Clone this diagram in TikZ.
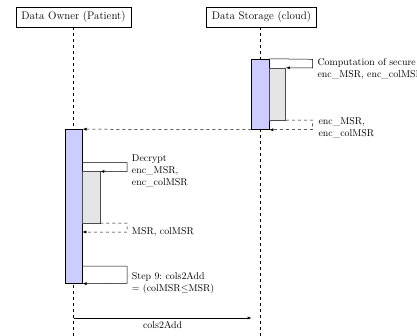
\documentclass[tikz,border=0pt]{standalone}
\usetikzlibrary{arrows.meta}
\begin{document}
\begin{tikzpicture}[x=1pt,y=-1pt,
  line width=0.5pt,
  >={Latex[length=4pt,width=3pt]},
  header/.style={draw, fill=white, font=\fontsize{11}{13}\selectfont, minimum height=20pt, inner xsep=5.5pt, inner ysep=0pt},
  life/.style={dashed, line width=0.6pt},
  act/.style={draw, fill=blue!20, inner sep=0pt},
  sub/.style={draw=black!70, fill=gray!20, inner sep=0pt},
  lbl/.style={font=\fontsize{9.9}{12}\selectfont, align=left, inner sep=0pt, anchor=west},
  ret/.style={->, dashed}
]
\useasboundingbox (0,0) rectangle (417,335);
\clip (0,0) rectangle (417,335);

% headers
\node[header] (do) at (73.5,17) {Data Owner (Patient)};
\node[header] (ds) at (261.5,17) {Data Storage (cloud)};

% lifeline end points
\coordinate (doEnd) at (73.6,340);
\coordinate (dsEnd) at (260.4,340);
\coordinate (doTop) at (73.6,27);
\coordinate (dsTop) at (260.4,27);
\draw[life] (doTop) -- (doEnd);
\draw[life] (dsTop) -- (dsEnd);

% storage activation
\node[act, minimum width=17.3pt, minimum height=70.5pt] (sA) at (260.35,94.25) {};
\node[sub, minimum width=16.7pt, minimum height=52pt] (sG) at (277.35,94) {};
\coordinate (c1a) at (312.7,59.3);
\coordinate (c1b) at (312.7,68);
\draw[->] (sA.north east) -- (c1a) -- (c1b) -- (sG.north east);
\node[lbl] (t1) at (317.3,69) {Computation of secure\\enc\_MSR, enc\_colMSR};
\coordinate (r1a) at (312.7,120);
\coordinate (r1b) at (312.7,129.5);
\draw[ret] (sG.south east) -- (r1a) -- (r1b) -- (sA.south east);
\node[lbl] (t2) at (318.3,127.5) {enc\_MSR,\\enc\_colMSR};

% owner activation
\node[act, minimum width=17.3pt, minimum height=154pt] (oA) at (73.65,206.4) {};
\draw[ret] (sA.south west) -- (oA.north east);
\node[sub, minimum width=17.7pt, minimum height=51.3pt] (oG) at (91.15,197.35) {};
\coordinate (c2s) at (82.3,162.7);
\coordinate (c2a) at (127,162.7);
\coordinate (c2b) at (127,171.7);
\draw[->] (c2s) -- (c2a) -- (c2b) -- (oG.north east);
\node[lbl] (t3) at (131.7,171) {Decrypt\\enc\_MSR,\\enc\_colMSR};
\coordinate (r2a) at (127,223);
\coordinate (r2b) at (127,232);
\coordinate (r2e) at (82.3,232);
\draw[ret] (oG.south east) -- (r2a) -- (r2b) -- (r2e);
\node[lbl] (t4) at (131.7,232.3) {MSR, colMSR};

\coordinate (c3s) at (82.3,266);
\coordinate (c3a) at (127,266);
\coordinate (c3b) at (127,283.4);
\draw[->] (c3s) -- (c3a) -- (c3b) -- (oA.south east);
\node[lbl] (t5) at (131.7,283) {Step 9:\ cols2Add\\= (colMSR$\leq$MSR)};

% final message
\coordinate (m1) at (73.6,318);
\coordinate (m2) at (251.7,318);
\draw[->] (m1) -- node[below=3pt, font=\fontsize{9.9}{12}\selectfont, inner sep=0pt] (t6) {cols2Add} (m2);
\end{tikzpicture}
\end{document}
